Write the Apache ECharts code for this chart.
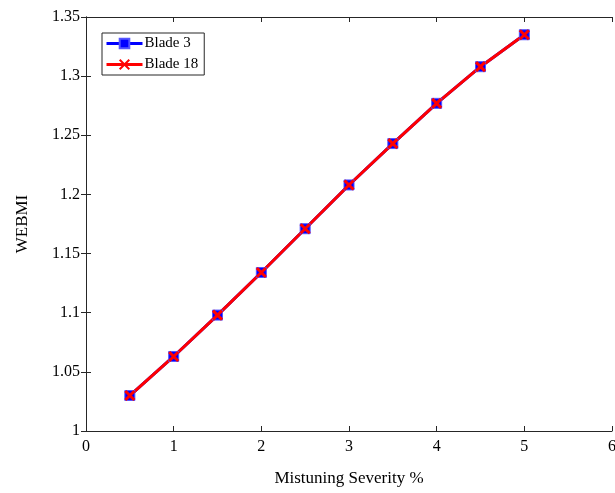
<!DOCTYPE html>
<html><head><meta charset="utf-8">
<script src="https://cdn.jsdelivr.net/npm/echarts@6/dist/echarts.min.js"></script>
<style>html,body{margin:0;padding:0;background:#fff}#c{width:615px;height:493px}</style>
</head><body><div id="c"></div>
<script>
const severity = [0.5, 1, 1.5, 2, 2.5, 3, 3.5, 4, 4.5, 5];
const blade3 = [1.030, 1.063, 1.098, 1.134, 1.171, 1.208, 1.243, 1.277, 1.308, 1.335];
const blade18 = [1.030, 1.063, 1.098, 1.134, 1.171, 1.208, 1.243, 1.277, 1.308, 1.335];
const seriesNames = ['Blade 3', 'Blade 18'];
const font = 'Liberation Serif';

const chart = echarts.init(document.getElementById('c'));
const axisCommon = {
  axisLine: {show: true, lineStyle: {color: '#262626', width: 1}},
  axisTick: {show: true, inside: true, length: 5, lineStyle: {color: '#262626'}},
  splitLine: {show: false}
};
chart.setOption({
  animation: false,
  backgroundColor: '#fff',
  grid: {left: 86, right: 3, top: 17, bottom: 62, show: false, outerBoundsMode: 'none', containLabel: false},
  legend: {
    orient: 'vertical', left: 102, top: 33,
    backgroundColor: '#fff', borderColor: '#262626', borderWidth: 1,
    padding: [3, 6, 3, 3], itemGap: 6, itemWidth: 36, itemHeight: 12,
    lineStyle: {width: 3},
    textStyle: {fontFamily: font, fontSize: 15, color: '#000', padding: [0, 0, 0, -3]},
    data: seriesNames
  },
  xAxis: [
    Object.assign({type: 'value', min: 0, max: 6, interval: 1, position: 'bottom',
      name: 'Mistuning Severity %', nameLocation: 'middle', nameGap: 39,
      nameTextStyle: {fontFamily: font, fontSize: 17, color: '#000'},
      axisLabel: {fontFamily: font, fontSize: 16, color: '#000', margin: 8}}, axisCommon),
    Object.assign({type: 'value', min: 0, max: 6, interval: 1, position: 'top',
      axisLabel: {show: false}}, axisCommon)
  ],
  yAxis: [
    Object.assign({type: 'value', min: 1, max: 1.35, interval: 0.05, position: 'left',
      name: 'WEBMI', nameLocation: 'middle', nameGap: 55,
      nameTextStyle: {fontFamily: font, fontSize: 17, color: '#000'},
      axisLabel: {fontFamily: font, fontSize: 16, color: '#000', margin: 6}}, axisCommon),
    Object.assign({type: 'value', min: 1, max: 1.35, interval: 0.05, position: 'right',
      axisLabel: {show: false}}, axisCommon)
  ],
  series: [
    {name: seriesNames[0], type: 'line', xAxisIndex: 0, yAxisIndex: 0,
     data: severity.map((x, i) => [x, blade3[i]]),
     symbol: 'rect', symbolSize: 10,
     lineStyle: {color: '#0000ff', width: 3},
     itemStyle: {color: '#0000ff', borderColor: '#5555ff', borderWidth: 1}},
    {name: seriesNames[1], type: 'line', xAxisIndex: 0, yAxisIndex: 0,
     data: severity.map((x, i) => [x, blade18[i]]),
     symbol: 'path://M0,0L10,10M10,0L0,10', symbolSize: 9,
     lineStyle: {color: '#ff0000', width: 3},
     itemStyle: {color: 'none', borderColor: '#ff0000', borderWidth: 3}}
  ]
});
</script></body></html>
